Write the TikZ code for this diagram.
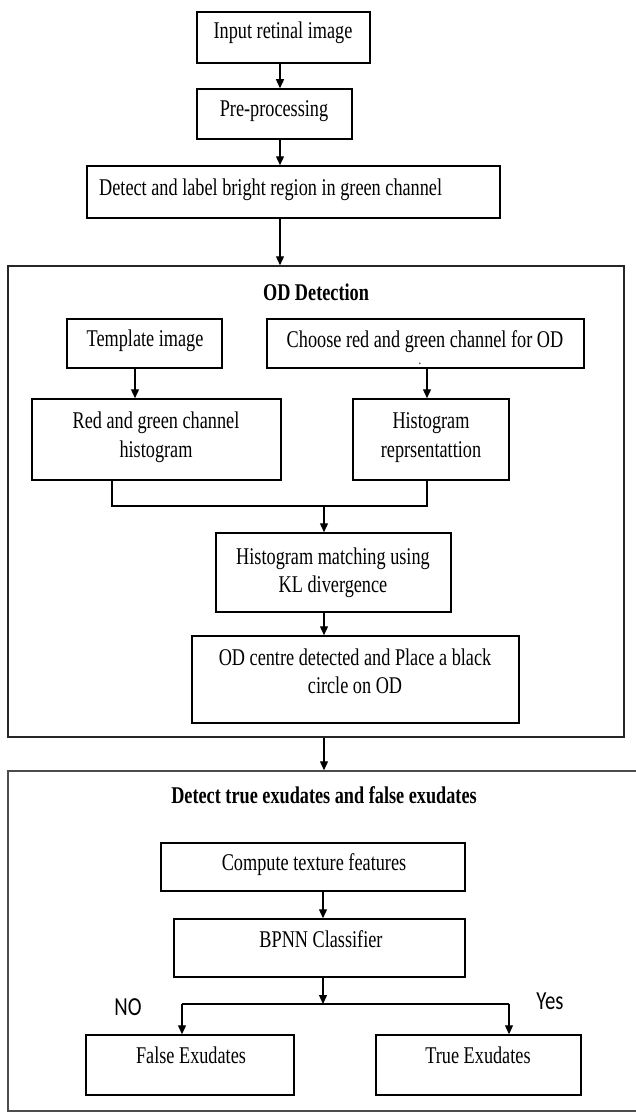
\documentclass[tikz,border=0pt]{standalone}
\usepackage{fontspec}
\setmainfont{Liberation Serif}[FakeStretch=0.76]
\newfontfamily\yesnofont{Carlito}[FakeStretch=0.8]
\usetikzlibrary{arrows.meta}
\tikzset{
  box/.style={draw=black, line width=1.5pt, rectangle, inner sep=0pt},
  cont/.style={rectangle, inner sep=0pt},
  txt/.style={inner sep=0pt, anchor=base, font=\fontsize{24}{28}\selectfont},
  ttl/.style={inner sep=0pt, anchor=base, font=\fontsize{24}{28}\selectfont\bfseries},
  yn/.style={inner sep=0pt, anchor=base, font=\fontsize{26}{30}\selectfont\yesnofont},
  arr/.style={-{Triangle[length=9pt,width=8pt]}, line width=1.3pt},
  ln/.style={line width=1.3pt},
}
\begin{document}
\begin{tikzpicture}[x=1pt,y=-1pt]
\clip (0,0) rectangle (636,1113);
\fill[white] (0,0) rectangle (636,1113);
% top chain
\node[box, minimum width=173pt, minimum height=51pt] (in) at (283.5,37.5) {};
\node[txt] (tin) at (283,39) {Input retinal image};
\node[box, minimum width=155pt, minimum height=50pt] (pre) at (274.5,114) {};
\node[txt] (tpre) at (274,117) {Pre-processing};
\node[box, minimum width=413pt, minimum height=52pt] (det) at (293.5,192) {};
\node[txt, anchor=base west] (tdet) at (99,195) {Detect and label bright region in green channel};
% OD container
\node[cont, draw=black!85, line width=1.5pt, minimum width=616pt, minimum height=471pt] (od) at (316,501.5) {};
\node[ttl] (tod) at (316,300) {OD Detection};
\node[box, minimum width=155pt, minimum height=49pt] (tmp) at (144.5,343.5) {};
\node[txt] (ttmp) at (145,346) {Template image};
\node[box, minimum width=317pt, minimum height=49pt] (cho) at (425.5,343.5) {};
\node[txt] (tcho) at (425,347) {Choose red and green channel for OD};
\node[inner sep=0pt, anchor=base, font=\fontsize{14}{14}\selectfont] (tdot) at (420,364) {.};
\node[box, minimum width=249pt, minimum height=81pt] (rg) at (156.5,439.5) {};
\node[txt] (trg1) at (156,428) {Red and green channel};
\node[txt] (trg2) at (156,457) {histogram};
\node[box, minimum width=156pt, minimum height=81pt] (hr) at (431,439.5) {};
\node[txt] (thr1) at (431,428) {Histogram};
\node[txt] (thr2) at (431,457) {reprsentattion};
\node[box, minimum width=235pt, minimum height=79pt] (hm) at (333.5,572.5) {};
\node[txt] (thm1) at (333,564) {Histogram matching using};
\node[txt] (thm2) at (333,592) {KL divergence};
\node[box, minimum width=327pt, minimum height=87pt] (odc) at (355.5,679.5) {};
\node[txt] (todc1) at (355,665) {OD centre detected and Place a black};
\node[txt] (todc2) at (355,693) {circle on OD};
% exudates container
\node[cont, draw=black!70, line width=1.5pt, minimum width=640pt, minimum height=340pt] (ex) at (328,941) {};
\node[ttl] (tex) at (324,803) {Detect true exudates and false exudates};
\node[box, minimum width=304pt, minimum height=48pt] (ctf) at (313,867) {};
\node[txt] (tctf) at (314,870) {Compute texture features};
\node[box, minimum width=291pt, minimum height=58pt] (bp) at (319.5,948) {};
\node[txt] (tbp) at (321,947) {BPNN Classifier};
\node[box, minimum width=208pt, minimum height=60pt] (fe) at (190,1065) {};
\node[txt] (tfe) at (191,1063) {False Exudates};
\node[box, minimum width=205pt, minimum height=60pt] (te) at (478.5,1065) {};
\node[txt] (tte) at (478,1063) {True Exudates};
\node[yn] (no) at (128,1015) {NO};
\node[yn] (yes) at (550,1009) {Yes};
% connectors
\draw[arr] (in.south -| 280,0) -- (pre.north -| 280,0);
\draw[arr] (pre.south -| 280,0) -- (det.north -| 280,0);
\draw[arr] (det.south -| 280,0) -- (od.north -| 280,0);
\draw[arr] (tmp.south -| 135,0) -- (rg.north -| 135,0);
\draw[arr] (cho.south -| 427,0) -- (hr.north -| 427,0);
\coordinate (j1) at (324,506);
\draw[ln] (rg.south -| 112,0) -- (j1 -| 112,0) -- (j1 -| 427,0) -- (hr.south -| 427,0);
\draw[arr] (j1) -- (hm.north -| j1);
\draw[arr] (hm.south -| 324,0) -- (odc.north -| 324,0);
\draw[arr] (od.south -| 324,0) -- (ex.north -| 324,0);
\draw[arr] (ctf.south -| 323,0) -- (bp.north -| 323,0);
\coordinate (j2) at (323,1004);
\draw[arr] (bp.south -| j2) -- (j2);
\draw[ln] (j2 -| 182,0) -- (j2 -| 509,0);
\draw[arr] (j2 -| 182,0) -- (fe.north -| 182,0);
\draw[arr] (j2 -| 509,0) -- (te.north -| 509,0);
\end{tikzpicture}
\end{document}
